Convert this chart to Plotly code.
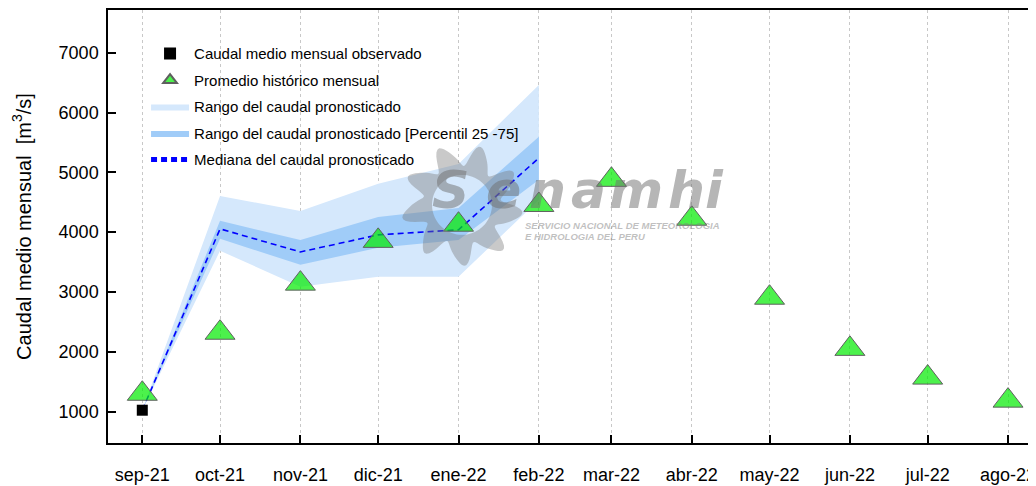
import math
import plotly.graph_objects as go

# meses (primer dia de cada mes) y etiquetas
months = ["2021-09-01", "2021-10-01", "2021-11-01", "2021-12-01", "2022-01-01", "2022-02-01",
          "2022-03-01", "2022-04-01", "2022-05-01", "2022-06-01", "2022-07-01", "2022-08-01"]
month_labels = ["sep-21", "oct-21", "nov-21", "dic-21", "ene-22", "feb-22",
                "mar-22", "abr-22", "may-22", "jun-22", "jul-22", "ago-22"]

# promedio historico mensual (m3/s)
hist_mean = [1300, 2320, 3140, 3855, 4125, 4455, 4875, 4225, 2905, 2050, 1570, 1185]

# caudal observado
obs_months = ["2021-09-01"]
obs_flow = [1025]

# pronostico
fc_months = months[:6]
fc_min = [1025, 3690, 3090, 3255, 3255, 4540]
fc_p25 = [1025, 3890, 3455, 3740, 3870, 4875]
fc_median = [1025, 4055, 3670, 3955, 4040, 5240]
fc_p75 = [1025, 4190, 3870, 4255, 4405, 5595]
fc_max = [1025, 4605, 4355, 4810, 5140, 6460]

FONT = "Liberation Sans, Arial, sans-serif"
LIGHT = "rgb(213,232,252)"
DARK = "rgb(160,204,248)"

fig = go.Figure()

# bandas
fig.add_trace(go.Scatter(
    x=fc_months + fc_months[::-1], y=fc_max + fc_min[::-1],
    fill="toself", fillcolor=LIGHT, line=dict(width=0), mode="lines",
    name="Rango del caudal pronosticado", legendrank=3, hoverinfo="skip"))
fig.add_trace(go.Scatter(
    x=fc_months + fc_months[::-1], y=fc_p75 + fc_p25[::-1],
    fill="toself", fillcolor=DARK, line=dict(width=0), mode="lines",
    name="Rango del caudal pronosticado [Percentil 25 -75]", legendrank=4, hoverinfo="skip"))
fig.add_trace(go.Scatter(
    x=fc_months, y=fc_median, mode="lines",
    line=dict(color="rgb(0,0,255)", width=1.6, dash="6px,4px"),
    name="Mediana del caudal pronosticado", legendrank=5))
fig.add_trace(go.Scatter(
    x=obs_months, y=obs_flow, mode="markers",
    marker=dict(symbol="square", size=11, color="black"),
    name="Caudal medio mensual observado", legendrank=1))
fig.add_trace(go.Scatter(
    x=months, y=hist_mean, mode="markers",
    marker=dict(symbol="triangle-up", size=26, color="rgba(0,235,0,0.7)",
                line=dict(color="rgb(95,95,95)", width=1)),
    name="Promedio histórico mensual", legendrank=2))

# marca de agua (logo Senamhi), coordenadas en pixeles -> papel
X0, W, Y0, H = 108, 928, 443.3, 433.3


def px(x, y):
    return (x - X0) / W, (Y0 - y) / H


cx, cy = 462, 205
pts = []
for k in range(181):
    t = 2 * math.pi * k / 180
    r = 50 + 11 * math.sin(9 * t + 0.4 * math.sin(9 * t))
    pts.append(px(cx + r * math.cos(t), cy + r * math.sin(t)))
path = "M" + " L".join(f"{a:.5f},{b:.5f}" for a, b in pts) + " Z"
hole = []
for k in range(73):
    t = 2 * math.pi * k / 72
    hole.append(px(cx + 30 * math.cos(t), cy + 30 * math.sin(t)))
path += " M" + " L".join(f"{a:.5f},{b:.5f}" for a, b in hole) + " Z"

shapes = [dict(type="path", path=path, xref="paper", yref="paper", layer="above",
               fillcolor="rgba(120,120,120,0.4)", line=dict(width=0), fillrule="evenodd")]

annotations = []
letters = [("S", 450), ("e", 503), ("n", 547), ("a", 588), ("m", 636), ("h", 686), ("i", 714)]
for ch, xc in letters:
    ax, ay = px(xc, 222)
    annotations.append(dict(text=f"<b><i>{ch}</i></b>", x=ax, y=ay, xref="paper", yref="paper",
                            xanchor="center", yanchor="bottom", showarrow=False,
                            font=dict(family="DejaVu Sans, sans-serif", size=52,
                                      color="rgba(110,110,110,0.5)")))
for txt, yy in [("SERVICIO NACIONAL DE METEOROLOGIA", 226), ("E HIDROLOGIA DEL PERU", 237)]:
    ax, ay = px(523, yy)
    annotations.append(dict(text=f"<b><i>{txt}</i></b>", x=ax, y=ay, xref="paper", yref="paper",
                            xanchor="left", yanchor="middle", showarrow=False,
                            font=dict(family=FONT, size=9.5, color="rgba(130,130,130,0.5)")))

# la pagina tiene 8px de margen: figura de 1028x478
fig.update_layout(
    width=1028, height=478,
    margin=dict(l=100, r=0, t=2, b=43, autoexpand=False),
    paper_bgcolor="white", plot_bgcolor="white",
    font=dict(family=FONT, color="black"),
    shapes=shapes, annotations=annotations,
    legend=dict(x=0.041, y=0.937, xanchor="left", yanchor="top",
                bgcolor="rgba(0,0,0,0)", font=dict(size=15, family=FONT),
                itemsizing="constant", itemwidth=38, tracegroupgap=4, traceorder="grouped"),
)
fig.update_xaxes(
    type="date", range=["2021-08-18 18:30", "2022-08-11 19:00"], automargin=False,
    tickvals=months, ticktext=month_labels, tickfont=dict(size=18),
    ticks="inside", ticklen=8, tickcolor="black", tickwidth=1.5,
    showline=True, linecolor="black", linewidth=1.5, mirror=True,
    showgrid=True, gridcolor="rgb(200,200,200)", griddash="dot", gridwidth=1,
    ticklabelstandoff=15, ticklabeloverflow="allow", zeroline=False)
fig.update_yaxes(
    range=[477, 7713], tickvals=[1000, 2000, 3000, 4000, 5000, 6000, 7000], automargin=False,
    tickfont=dict(size=18), ticks="inside", ticklen=8, tickcolor="black", tickwidth=1.5,
    showline=True, linecolor="black", linewidth=1.5, showgrid=False, zeroline=False,
    ticklabelstandoff=4,
    title=dict(text="Caudal medio mensual  [m<sup>3</sup>/s]", font=dict(size=20), standoff=22))

for i in range(5):
    fig.data[i].legendgroup = f"g{i}"

fig.write_html("out.html")
